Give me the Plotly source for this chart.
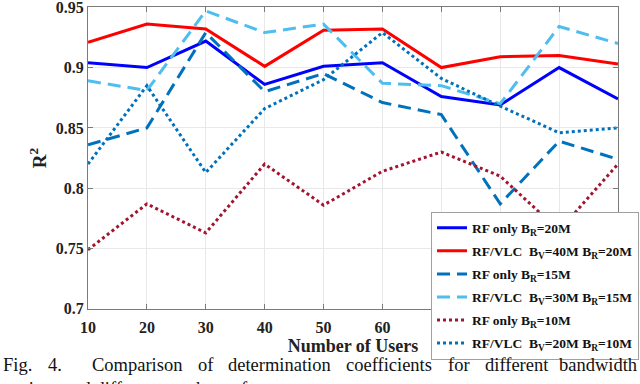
import plotly.graph_objects as go

users = [10, 20, 30, 40, 50, 60, 70, 80, 90, 100]
rf_20 = [0.904, 0.900, 0.922, 0.886, 0.901, 0.904, 0.876, 0.869, 0.900, 0.874]
vlc_40_20 = [0.921, 0.936, 0.932, 0.901, 0.931, 0.932, 0.900, 0.909, 0.910, 0.903]
rf_15 = [0.836, 0.850, 0.929, 0.880, 0.895, 0.871, 0.861, 0.787, 0.839, 0.824]
vlc_30_15 = [0.889, 0.881, 0.947, 0.929, 0.936, 0.887, 0.885, 0.870, 0.934, 0.920]
rf_10 = [0.749, 0.787, 0.763, 0.820, 0.786, 0.814, 0.830, 0.810, 0.765, 0.820]
vlc_20_10 = [0.820, 0.885, 0.813, 0.866, 0.890, 0.929, 0.891, 0.868, 0.846, 0.850]

y_ticks = [0.7, 0.75, 0.8, 0.85, 0.9, 0.95]
y_ticklabels = ["0.7", "0.75", "0.8", "0.85", "0.9", "0.95"]

series = [
    ("RF only B<sub>R</sub>=20M", rf_20, "#0000FF", "solid"),
    ("RF/VLC&nbsp;&nbsp;B<sub>V</sub>=40M B<sub>R</sub>=20M", vlc_40_20, "#FF0000", "solid"),
    ("RF only B<sub>R</sub>=15M", rf_15, "#0072BD", "13px,7px"),
    ("RF/VLC&nbsp;&nbsp;B<sub>V</sub>=30M B<sub>R</sub>=15M", vlc_30_15, "#4DBEEE", "13px,7px"),
    ("RF only B<sub>R</sub>=10M", rf_10, "#A2142F", "3px,3px"),
    ("RF/VLC&nbsp;&nbsp;B<sub>V</sub>=20M B<sub>R</sub>=10M", vlc_20_10, "#0072BD", "3px,3px"),
]

caption_words = ["Fig.", "4.", "Comparison", "of", "determination",
                 "coefficients", "for", "different", "bandwidth"]
caption_line2 = "settings and different numbers of users."

SERIF = "Liberation Serif, Times New Roman, serif"

# plot-area geometry (pixels) used to place figure-level text
L, R, T, B = 88, 618, 7, 309
W, H = 640, 384


def px_x(px):
    return (px - L) / (R - L)


def px_y(py):
    return (B - py) / (B - T)


fig = go.Figure()
for i, (name, vals, color, dash) in enumerate(series):
    fig.add_trace(go.Scatter(
        x=users, y=vals, mode="lines", name=name, legendgroup=f"g{i}",
        line=dict(color=color, width=3, dash=dash),
    ))

axis_common = dict(
    showline=True, linecolor="#7a7a7a", linewidth=1, mirror="ticks",
    ticks="inside", ticklen=5, tickcolor="#7a7a7a",
    showgrid=True, gridcolor="#e8e8e8", gridwidth=1, zeroline=False,
    tickfont=dict(family=SERIF, size=16, color="#222222", weight="bold"),
    automargin=False, ticklabeloverflow="allow",
)

fig.update_xaxes(range=[10, 100], tickvals=users, ticktext=[str(u) for u in users],
                 ticklabelstandoff=4,
                 title=dict(text="<b>Number of Users</b>", standoff=4,
                            font=dict(family=SERIF, size=18, color="#222222")),
                 **axis_common)
fig.update_yaxes(range=[0.6999, 0.9502], tickvals=y_ticks, ticktext=y_ticklabels,
                 title=dict(text="<b>R<sup>2</sup></b>", standoff=4,
                            font=dict(family=SERIF, size=19, color="#222222")),
                 **axis_common)

fig.update_layout(
    width=W, height=H,
    margin=dict(l=L, r=W - R, t=T, b=H - B, autoexpand=False),
    paper_bgcolor="white", plot_bgcolor="white",
    showlegend=True,
    legend=dict(
        x=px_x(431), y=px_y(211.5), xanchor="left", yanchor="top",
        bgcolor="white", bordercolor="#a0a0a0", borderwidth=1,
        font=dict(family=SERIF, size=13.5, color="#111111", weight="bold"),
        traceorder="grouped", tracegroupgap=2.5, itemwidth=30,
    ),
)

# justified caption line: left edges of each word (pixels)
word_left = [1, 45.5, 90, 195.5, 226, 344, 445.5, 482.5]
cap_y = px_y(365)
for w, px in zip(caption_words[:-1], word_left):
    fig.add_annotation(text=w, x=px_x(px), y=cap_y, xref="paper", yref="paper",
                       xanchor="left", yanchor="middle", showarrow=False,
                       font=dict(family=SERIF, size=18.5, color="#111111"))
fig.add_annotation(text=caption_words[-1], x=px_x(639), y=cap_y, xref="paper", yref="paper",
                   xanchor="right", yanchor="middle", showarrow=False,
                   font=dict(family=SERIF, size=18.5, color="#111111"))
fig.add_annotation(text=caption_line2, x=px_x(1), y=px_y(389),
                   xref="paper", yref="paper", xanchor="left", yanchor="middle", showarrow=False,
                   font=dict(family=SERIF, size=18.5, color="#111111"))

fig.write_html("out.html", config={"displayModeBar": False},
               post_script="document.body.style.margin='0';document.body.style.padding='0';")
